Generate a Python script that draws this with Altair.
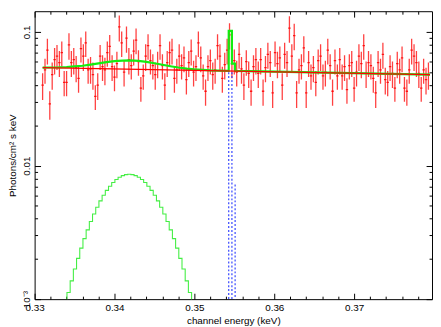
import altair as alt
import pandas as pd

# ---- observed spectrum (channel energy keV, flux, 1-sigma error) ----
energy = [
    0.3310, 0.3313, 0.3316, 0.3319, 0.3322, 0.3325, 0.3328, 0.3331, 0.3334, 0.3337,
    0.3340, 0.3343, 0.3346, 0.3349, 0.3352, 0.3355, 0.3358, 0.3361, 0.3364, 0.3367,
    0.3370, 0.3373, 0.3376, 0.3379, 0.3382, 0.3385, 0.3388, 0.3391, 0.3394, 0.3397,
    0.3400, 0.3403, 0.3406, 0.3409, 0.3412, 0.3415, 0.3418, 0.3421, 0.3424, 0.3427,
    0.3430, 0.3433, 0.3436, 0.3439, 0.3442, 0.3445, 0.3448, 0.3451, 0.3454, 0.3457,
    0.3460, 0.3463, 0.3466, 0.3469, 0.3472, 0.3475, 0.3478, 0.3481, 0.3484, 0.3487,
    0.3490, 0.3493, 0.3496, 0.3499, 0.3502, 0.3505, 0.3508, 0.3511, 0.3514, 0.3517,
    0.3520, 0.3523, 0.3526, 0.3529, 0.3532, 0.3535, 0.3538, 0.3541, 0.3544, 0.3547,
    0.3550, 0.3553, 0.3556, 0.3559, 0.3562, 0.3565, 0.3568, 0.3571, 0.3574, 0.3577,
    0.3580, 0.3583, 0.3586, 0.3589, 0.3592, 0.3595, 0.3598, 0.3601, 0.3604, 0.3607,
    0.3610, 0.3613, 0.3616, 0.3619, 0.3622, 0.3625, 0.3628, 0.3631, 0.3634, 0.3637,
    0.3640, 0.3643, 0.3646, 0.3649, 0.3652, 0.3655, 0.3658, 0.3661, 0.3664, 0.3667,
    0.3670, 0.3673, 0.3676, 0.3679, 0.3682, 0.3685, 0.3688, 0.3691, 0.3694, 0.3697,
    0.3700, 0.3703, 0.3706, 0.3709, 0.3712, 0.3715, 0.3718, 0.3721, 0.3724, 0.3727,
    0.3730, 0.3733, 0.3736, 0.3739, 0.3742, 0.3745, 0.3748, 0.3751, 0.3754, 0.3757,
    0.3760, 0.3763, 0.3766, 0.3769, 0.3772, 0.3775, 0.3778, 0.3781, 0.3784, 0.3787,
    0.3790, 0.3793,
]
flux = [
    0.040, 0.052, 0.073, 0.029, 0.048, 0.062, 0.066, 0.059, 0.070, 0.042,
    0.042, 0.080, 0.059, 0.062, 0.054, 0.045, 0.075, 0.066, 0.083, 0.052,
    0.053, 0.048, 0.033, 0.040, 0.066, 0.055, 0.052, 0.070, 0.078, 0.055,
    0.046, 0.058, 0.109, 0.083, 0.050, 0.090, 0.062, 0.056, 0.072, 0.087,
    0.060, 0.038, 0.047, 0.066, 0.079, 0.061, 0.056, 0.048, 0.058, 0.079,
    0.056, 0.040, 0.059, 0.070, 0.073, 0.045, 0.052, 0.066, 0.056, 0.064,
    0.044, 0.059, 0.072, 0.050, 0.055, 0.083, 0.064, 0.047, 0.036, 0.055,
    0.061, 0.048, 0.052, 0.079, 0.066, 0.045, 0.057, 0.073, 0.095, 0.058,
    0.061, 0.050, 0.068, 0.053, 0.040, 0.060, 0.049, 0.036, 0.055, 0.062,
    0.049, 0.062, 0.036, 0.054, 0.068, 0.059, 0.035, 0.070, 0.058, 0.064,
    0.040, 0.068, 0.059, 0.107, 0.066, 0.094, 0.035, 0.052, 0.056, 0.076,
    0.035, 0.059, 0.047, 0.054, 0.042, 0.061, 0.066, 0.047, 0.050, 0.073,
    0.056, 0.036, 0.061, 0.047, 0.062, 0.047, 0.055, 0.037, 0.056, 0.059,
    0.038, 0.050, 0.066, 0.058, 0.079, 0.049, 0.059, 0.056, 0.045, 0.035,
    0.059, 0.052, 0.068, 0.044, 0.042, 0.055, 0.049, 0.038, 0.058, 0.052,
    0.064, 0.038, 0.036, 0.052, 0.073, 0.066, 0.059, 0.049, 0.038, 0.052,
    0.044, 0.048,
]
flux_err = [
    0.009, 0.011, 0.016, 0.007, 0.011, 0.014, 0.014, 0.013, 0.015, 0.009,
    0.009, 0.018, 0.013, 0.014, 0.012, 0.010, 0.016, 0.015, 0.018, 0.011,
    0.012, 0.011, 0.007, 0.009, 0.014, 0.012, 0.012, 0.015, 0.017, 0.012,
    0.010, 0.013, 0.024, 0.018, 0.011, 0.020, 0.014, 0.012, 0.016, 0.019,
    0.013, 0.008, 0.010, 0.015, 0.017, 0.013, 0.012, 0.011, 0.013, 0.017,
    0.012, 0.009, 0.013, 0.015, 0.016, 0.010, 0.011, 0.015, 0.012, 0.014,
    0.010, 0.013, 0.016, 0.011, 0.012, 0.018, 0.014, 0.010, 0.008, 0.012,
    0.013, 0.011, 0.011, 0.017, 0.015, 0.010, 0.013, 0.016, 0.021, 0.013,
    0.013, 0.011, 0.015, 0.012, 0.009, 0.013, 0.011, 0.008, 0.012, 0.014,
    0.011, 0.014, 0.008, 0.012, 0.015, 0.013, 0.008, 0.015, 0.013, 0.014,
    0.009, 0.015, 0.013, 0.024, 0.015, 0.021, 0.008, 0.011, 0.012, 0.017,
    0.008, 0.013, 0.010, 0.012, 0.009, 0.013, 0.015, 0.010, 0.011, 0.016,
    0.012, 0.008, 0.013, 0.010, 0.014, 0.010, 0.012, 0.008, 0.012, 0.013,
    0.008, 0.011, 0.015, 0.013, 0.017, 0.011, 0.013, 0.012, 0.010, 0.008,
    0.013, 0.011, 0.015, 0.010, 0.009, 0.012, 0.011, 0.008, 0.013, 0.011,
    0.014, 0.008, 0.008, 0.011, 0.016, 0.015, 0.013, 0.011, 0.008, 0.011,
    0.010, 0.011,
]
channel_half_width = 0.00015

# ---- model components ----
cont_energy = [0.3310, 0.3795]
cont_flux = [0.0540, 0.0480]

gauss_edges = [
    0.33365, 0.33405, 0.33445, 0.33485, 0.33525, 0.33565, 0.33605, 0.33645, 0.33685, 0.33725,
    0.33765, 0.33805, 0.33845, 0.33885, 0.33925, 0.33965, 0.34005, 0.34045, 0.34085, 0.34125,
    0.34165, 0.34205, 0.34245, 0.34285, 0.34325, 0.34365, 0.34405, 0.34445, 0.34485, 0.34525,
    0.34565, 0.34605, 0.34645, 0.34685, 0.34725, 0.34765, 0.34805, 0.34845, 0.34885, 0.34925,
    0.34965, 0.35005,
]
gauss_flux = [
    0.00089, 0.00112, 0.00137, 0.00168, 0.00202, 0.00241, 0.00284, 0.00330, 0.00381, 0.00434,
    0.00488, 0.00544, 0.00599, 0.00652, 0.00701, 0.00747, 0.00786, 0.00817, 0.00841, 0.00855,
    0.00860, 0.00855, 0.00841, 0.00817, 0.00786, 0.00747, 0.00701, 0.00652, 0.00599, 0.00544,
    0.00488, 0.00434, 0.00381, 0.00330, 0.00284, 0.00241, 0.00202, 0.00168, 0.00137, 0.00112,
    0.00089, 0.00089,
]

total_energy = [
    0.3310, 0.3320, 0.3330, 0.3340, 0.3350, 0.3360, 0.3370, 0.3380, 0.3390, 0.3400,
    0.3410, 0.3420, 0.3430, 0.3440, 0.3450, 0.3460, 0.3470, 0.3480, 0.3490, 0.3500,
    0.3510, 0.3520, 0.3530, 0.3543, 0.3543, 0.3547, 0.3547, 0.3551, 0.3551, 0.3795,
]
total_flux = [
    0.0541, 0.0542, 0.0543, 0.0546, 0.0552, 0.0559, 0.0570, 0.0582, 0.0595, 0.0605,
    0.0611, 0.0612, 0.0607, 0.0597, 0.0583, 0.0568, 0.0554, 0.0542, 0.0532, 0.0525,
    0.0520, 0.0516, 0.0514, 0.0512, 0.1020, 0.1020, 0.0580, 0.0580, 0.0511, 0.0480,
]

line_energy = [0.3543, 0.3547, 0.3551]
line_flux = [0.050, 0.050, 0.0072]

# ---- axis ticks ----
x_major = [0.33, 0.34, 0.35, 0.36, 0.37]
x_minor = [0.332, 0.334, 0.336, 0.338, 0.342, 0.344, 0.346, 0.348, 0.352, 0.354,
           0.356, 0.358, 0.362, 0.364, 0.366, 0.368, 0.372, 0.374, 0.376, 0.378]
y_major = [0.001, 0.01, 0.1]
y_minor = [0.002, 0.003, 0.004, 0.005, 0.006, 0.007, 0.008, 0.009,
           0.02, 0.03, 0.04, 0.05, 0.06, 0.07, 0.08, 0.09]

FONT = "Liberation Sans"
xs = alt.Scale(domain=[0.33, 0.37975], nice=False, zero=False)
ys = alt.Scale(type="log", domain=[0.001, 0.143], nice=False)


def tick_axis(orient, values, size):
    return alt.Axis(orient=orient, values=values, tickSize=size, offset=-size,
                    labels=False, domain=False, title=None, grid=False,
                    ticks=True, tickColor="black", tickWidth=1)


obs = pd.DataFrame({"energy": energy, "flux": flux, "err": flux_err})
obs_calc = dict(lo="datum.flux - datum.err", hi="datum.flux + datum.err",
                xlo=f"datum.energy - {channel_half_width}",
                xhi=f"datum.energy + {channel_half_width}")

x_label_axis = alt.Axis(orient="bottom", values=x_major, format=".2f", ticks=False,
                        tickSize=0, domain=False, grid=False, labelFlush=False,
                        labelPadding=4, labelFont=FONT, labelFontSize=10,
                        labelColor="black", title="channel energy (keV)",
                        titleFont=FONT, titleFontSize=10, titleFontWeight="normal",
                        titleColor="black", titlePadding=3)
y_label_axis = alt.Axis(orient="left", values=y_major,
                        labelExpr="datum.value < 0.005 ? '10⁻³' : (datum.value < 0.05 ? '0.01' : '0.1')",
                        labelAngle=270, labelAlign="center", labelBaseline="bottom",
                        ticks=False, tickSize=0, domain=False, grid=False,
                        labelPadding=3, labelFont=FONT, labelFontSize=10,
                        labelColor="black", title="Photons/cm² s keV",
                        titleFont=FONT, titleFontSize=10, titleFontWeight="normal",
                        titleColor="black", titlePadding=4)

err_v = alt.Chart(obs).transform_calculate(**obs_calc).mark_rule(
    color="#ff0000", strokeWidth=1.3, opacity=0.75, clip=True
).encode(
    x=alt.X("energy:Q", scale=xs, axis=x_label_axis),
    y=alt.Y("lo:Q", scale=ys, axis=y_label_axis),
    y2="hi:Q",
)

err_h = alt.Chart(obs).transform_calculate(**obs_calc).mark_rule(
    color="#ff0000", strokeWidth=1.3, opacity=0.85, clip=True
).encode(
    x=alt.X("xlo:Q", scale=xs, axis=tick_axis("bottom", x_major, 6)),
    x2="xhi:Q",
    y=alt.Y("flux:Q", scale=ys, axis=tick_axis("left", y_major, 6)),
)

gauss_df = pd.DataFrame({"energy": gauss_edges, "flux": gauss_flux})
gauss_line = alt.Chart(gauss_df).mark_line(
    color="#44ee44", strokeWidth=1.1, interpolate="step-after", clip=True
).encode(
    x=alt.X("energy:Q", scale=xs, axis=tick_axis("bottom", x_minor, 3)),
    y=alt.Y("flux:Q", scale=ys, axis=tick_axis("left", y_minor, 3)),
)

line_df = pd.DataFrame({"energy": line_energy, "flux": line_flux})
line_rules = alt.Chart(line_df).transform_calculate(floor="0.00001").mark_rule(
    color="#3344ff", strokeWidth=1.2, strokeDash=[2, 2], clip=True
).encode(
    x=alt.X("energy:Q", scale=xs, axis=tick_axis("top", x_major, 6)),
    y=alt.Y("flux:Q", scale=ys, axis=tick_axis("right", y_major, 6)),
    y2="floor:Q",
)

total_df = pd.DataFrame({"energy": total_energy, "flux": total_flux,
                         "idx": list(range(len(total_energy)))})
total_line = alt.Chart(total_df).mark_line(
    color="#11ee11", strokeWidth=2.2, clip=True
).encode(
    x=alt.X("energy:Q", scale=xs, axis=tick_axis("top", x_minor, 3)),
    y=alt.Y("flux:Q", scale=ys, axis=tick_axis("right", y_minor, 3)),
    order="idx:Q",
)

cont_df = pd.DataFrame({"energy": cont_energy, "flux": cont_flux})
cont_line = alt.Chart(cont_df).mark_line(
    color="#ff0000", strokeWidth=1.2, clip=True
).encode(
    x=alt.X("energy:Q", scale=xs, axis=None),
    y=alt.Y("flux:Q", scale=ys, axis=None),
)

chart = alt.layer(
    err_v, err_h, gauss_line, line_rules, total_line, cont_line
).resolve_axis(
    x="independent", y="independent"
).properties(
    width=403, height=292,
    padding={"left": 0, "top": 0, "right": 0, "bottom": 0},
).configure_view(
    stroke="black", strokeWidth=1
)

chart.save("out.html", embed_options={"renderer": "svg", "actions": False})
